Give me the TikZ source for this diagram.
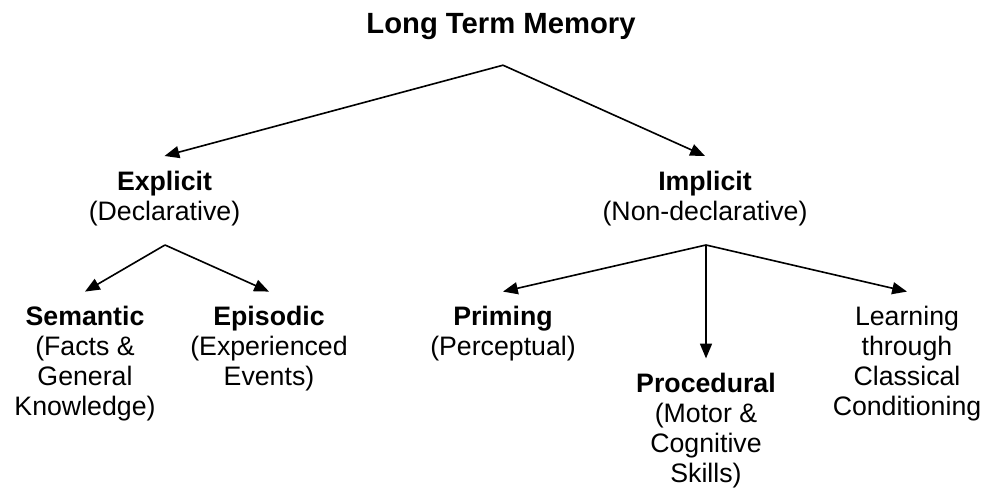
\documentclass[tikz,border=0pt]{standalone}
\usepackage{fontspec}
\setmainfont{Liberation Sans}
\usetikzlibrary{arrows.meta}

\begin{document}
\begin{tikzpicture}[
  lbl/.style={align=center, inner xsep=0pt, inner ysep=0pt, anchor=north,
    font=\fontsize{19}{21.34}\selectfont},
  kid/.style={lbl, inner ysep=0.36cm},
  tip/.style={-{Triangle[length=0.37cm, width=0.3cm]}, line width=1.15pt}
]
\useasboundingbox (0,0) rectangle (24.675,-12.275);
        % memory tree
\node[lbl, font=\fontsize{20.8}{24}\selectfont\bfseries] at (12.525, -0.33)
(ltm) {Long Term Memory};

\node[kid] at (4.1125, -3.9)
(expl) {\textbf{Explicit}\\(Declarative)};

\node[kid] at (17.625, -3.9)
(impl) {\textbf{Implicit}\\(Non-declarative)};

\node[kid] at (2.125, -7.29)
(sem) {\textbf{Semantic}\\(Facts \&\\General\\Knowledge)};
\node[kid] at (6.725, -7.29)
(epi) {\textbf{Episodic}\\(Experienced\\Events)};

\node[kid] at (12.575, -7.29)
(prim) {\textbf{Priming}\\(Perceptual)};
\node[kid] at (17.65, -8.96)
(proc) {\textbf{Procedural}\\(Motor \&\\Cognitive\\Skills)};
\node[kid] at (22.675, -7.29)
(cond) {Learning\\through\\Classical\\Conditioning};

\coordinate (ltm-fork)  at (12.575, -1.63);
\coordinate (expl-fork) at (4.125, -6.125);
\coordinate (impl-fork) at (17.65, -6.125);

\draw
  (ltm-fork)  edge[tip] (expl.north)
  (ltm-fork)  edge[tip] (impl.north)
  (expl-fork) edge[tip] (sem.north)
  (expl-fork) edge[tip] (epi.north)
  (impl-fork) edge[tip] (prim.north)
  (impl-fork) edge[tip] (proc.north)
  (impl-fork) edge[tip] (cond.north)
;
      \end{tikzpicture}
\end{document}
